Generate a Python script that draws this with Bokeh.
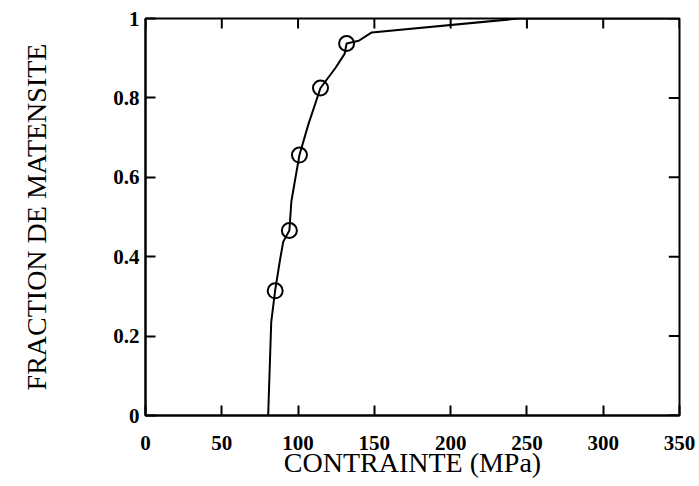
from bokeh.plotting import figure
from bokeh.models import Range1d, FixedTicker, CustomJSTickFormatter
from bokeh.embed import file_html
from bokeh.resources import INLINE

# Data
curve_x = [80.4, 82.4, 85.0, 88.3, 90.3, 94.3, 95.6, 98.2, 100.9, 106.8, 114.7, 124.6, 130.5, 131.8, 139.8, 145.0, 148.3, 245.0, 350.0]
curve_y = [0.0, 0.235, 0.316, 0.395, 0.438, 0.466, 0.539, 0.597, 0.656, 0.734, 0.825, 0.876, 0.911, 0.937, 0.944, 0.957, 0.965, 1.0, 1.0]
pts_x = [85.0, 94.3, 100.9, 114.7, 131.8]
pts_y = [0.314, 0.466, 0.656, 0.825, 0.937]
x_ticks = [0, 50, 100, 150, 200, 250, 300, 350]
y_ticks = [0, 0.2, 0.4, 0.6, 0.8, 1]

SERIF = "Liberation Serif"
X_MIN, X_MAX, Y_MIN, Y_MAX = 0, 350, 0, 1

p = figure(width=695, height=480, output_backend="svg", toolbar_location=None,
           x_range=Range1d(X_MIN, X_MAX), y_range=Range1d(Y_MIN, Y_MAX),
           min_border_left=145, min_border_right=16, min_border_top=18, min_border_bottom=10)
p.grid.visible = False
p.outline_line_color = "black"
p.outline_line_width = 2
p.background_fill_color = "white"
p.border_fill_color = "white"

fmt = CustomJSTickFormatter(code="return tick.toString();")

for ax in (p.xaxis[0], p.yaxis[0]):
    ax.axis_line_width = 2
    ax.axis_line_color = "black"
    ax.major_tick_in = 10
    ax.major_tick_out = 0
    ax.minor_tick_line_color = None
    ax.major_tick_line_width = 2
    ax.major_label_text_font = SERIF
    ax.major_label_text_font_style = "bold"
    ax.major_label_text_font_size = "21px"
    ax.major_label_text_color = "black"
    ax.axis_label_text_font = SERIF
    ax.axis_label_text_font_style = "normal"
    ax.axis_label_text_font_size = "28px"
    ax.axis_label_text_color = "black"
    ax.formatter = fmt

p.xaxis[0].ticker = FixedTicker(ticks=x_ticks)
p.yaxis[0].ticker = FixedTicker(ticks=y_ticks)
p.xaxis[0].axis_label = "CONTRAINTE (MPa)"
p.yaxis[0].axis_label = "FRACTION DE MATENSITE"
p.xaxis[0].major_label_standoff = 20
p.xaxis[0].axis_label_standoff = -6
p.yaxis[0].major_label_standoff = 6
p.yaxis[0].axis_label_standoff = 58

# Inward ticks on the top and right sides of the frame
n_x = len(x_ticks)
n_y = len(y_ticks)
tick_dy = 0.025 * (Y_MAX - Y_MIN)
tick_dx = 0.02 * (X_MAX - X_MIN)
p.segment(x0=x_ticks, y0=[Y_MAX] * n_x, x1=x_ticks, y1=[Y_MAX - tick_dy] * n_x,
          line_color="black", line_width=2)
p.segment(x0=[X_MAX] * n_y, y0=y_ticks, x1=[X_MAX - tick_dx] * n_y, y1=y_ticks,
          line_color="black", line_width=2)

p.line(curve_x, curve_y, line_color="black", line_width=2)
p.scatter(pts_x, pts_y, marker="circle", size=15, fill_color=None,
          line_color="black", line_width=2)

open("out.html", "w").write(file_html(p, INLINE))
